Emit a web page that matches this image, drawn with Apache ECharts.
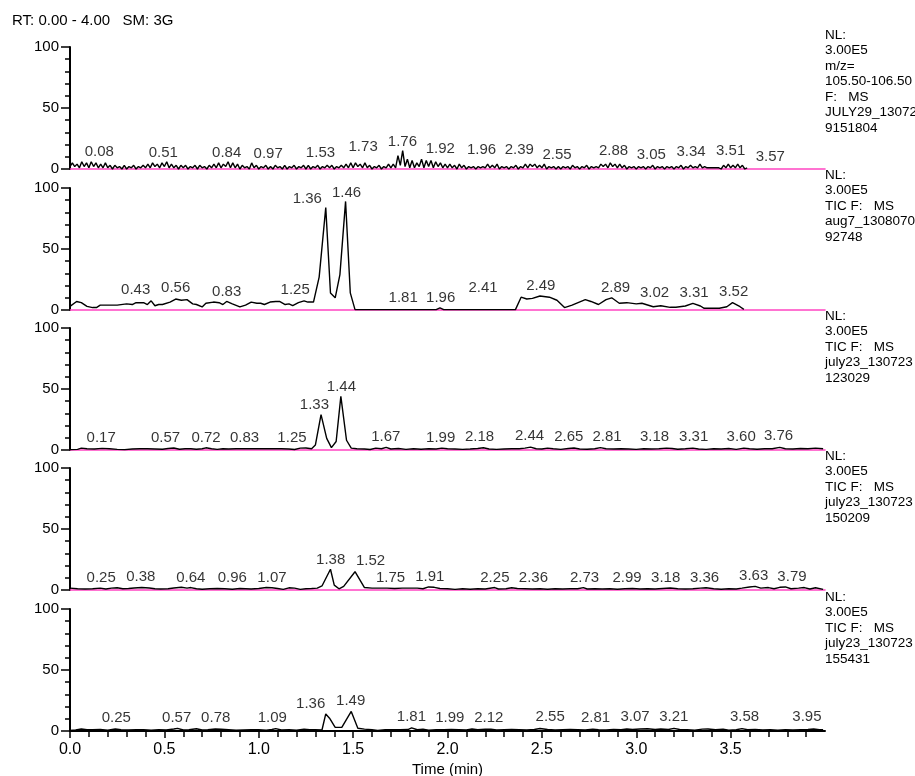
<!DOCTYPE html>
<html><head><meta charset="utf-8">
<script src="https://cdn.jsdelivr.net/npm/echarts@6/dist/echarts.min.js"></script>
<style>html,body{margin:0;padding:0;background:#fff}#chart{width:915px;height:776px}</style>
</head><body><div id="chart"></div>
<script>
// ---------- DATA ----------
const headerText = 'RT: 0.00 - 4.00   SM: 3G';
const xTickLabels = [0, 0.5, 1.0, 1.5, 2.0, 2.5, 3.0, 3.5];

// Panel 1: regular scans (m/z 105.5-106.5)
const p1Start = 0, p1Step = 0.0125;
const p1Values = [
  2,5,2,4,1,6,2,5, 1,6,2,5,1,4,1,5, 1,3,0,3,1,2,0,3, 0,2,1,3,0,2,1,3,
  1,4,1,5,2,4,1,5, 2,6,1,4,1,3,0,3, 1,3,0,2,1,3,0,3, 1,2,0,3,1,4,1,5,
  1,4,2,6,1,5,1,4, 0,3,1,2,0,5,1,3, 0,2,1,3,0,2,0,3, 1,2,0,3,0,2,1,3,
  0,2,1,3,0,3,0,2, 1,3,0,2,1,3,1,3, 0,2,1,3,1,4,1,5, 1,5,2,4,1,5,1,3,
  0,2,1,3,0,2,1,4, 1,4,1,11,3,15,2,8, 1,7,1,5,2,8,1,7, 2,7,1,6,2,5,1,4,
  1,4,1,3,0,4,1,3, 0,2,1,2,0,2,1,2, 1,4,1,3,1,4,0,2, 1,2,0,2,1,3,0,2,
  1,4,1,4,2,4,1,3, 1,4,0,2,1,2,0,2, 0,2,1,2,0,3,1,2, 0,2,1,3,0,2,1,2,
  1,4,2,4,1,5,2,4, 1,4,1,3,0,2,1,2, 0,2,1,2,0,2,1,3, 0,2,1,2,0,2,1,2,
  0,2,1,3,0,2,1,3, 1,2,1,4,1,2,1,1, 1,1,1,1,0,3,1,4, 1,3,1,4,1,3,0,1
];
const p1LabelText = ['0.08','0.51','0.84','0.97','1.53','1.73','1.76','1.92','1.96','2.39','2.55','2.88','3.05','3.34','3.51','3.57'];
const p1LabelX = [0.155,0.494,0.83,1.05,1.327,1.553,1.761,1.962,2.18,2.38,2.58,2.88,3.08,3.29,3.50,3.71];
const p1LabelY = [14.2,13.4,13.4,12.3,13.4,18.3,22.4,16.4,15.6,15.6,11.5,15,11.5,14.2,15,10];
const p1Info = ['NL:', '3.00E5', 'm/z=', '105.50-106.50', 'F:   MS', 'JULY29_13072', '9151804'];

// Panel 2
const p2Trace = [[0,3],[0.035,7],[0.06,6],[0.09,3],[0.12,2],[0.14,2],[0.16,4],[0.25,4],[0.30,5],[0.33,4.5],[0.35,6],[0.39,6],[0.41,4.5],[0.43,7.5],[0.45,3.5],[0.47,4.5],[0.49,4.5],[0.53,6.5],[0.56,9],[0.59,8],[0.62,8.5],[0.65,5],[0.67,4.5],[0.70,2.5],[0.72,5.5],[0.76,6.5],[0.79,6],[0.81,4.5],[0.83,7],[0.86,5],[0.90,2.5],[0.93,4],[0.96,6.5],[0.99,5.5],[1.01,5.5],[1.03,4.5],[1.06,6.5],[1.09,7],[1.11,7],[1.14,4.5],[1.16,5],[1.18,3.5],[1.21,6],[1.24,7.5],[1.26,6.5],[1.29,6.5],[1.32,27],[1.355,84],[1.38,14],[1.405,10],[1.43,29],[1.46,89],[1.485,14],[1.51,0.3],[1.94,0.3],[1.96,1.8],[1.98,0.3],[2.36,0.3],[2.39,10.5],[2.42,9],[2.45,9.5],[2.49,11.5],[2.54,10.5],[2.58,8],[2.62,2],[2.66,4],[2.73,8.5],[2.76,7],[2.80,4.5],[2.84,8.5],[2.87,10],[2.91,5.5],[2.95,6],[3.00,5],[3.03,5.5],[3.09,2.7],[3.13,3.5],[3.18,2.2],[3.21,2.2],[3.26,3.3],[3.30,5.5],[3.34,3.3],[3.36,1.4],[3.44,1.4],[3.48,2.7],[3.51,6],[3.55,2.7],[3.57,0.5]];
const p2LabelText = ['0.43','0.56','0.83','1.25','1.36','1.46','1.81','1.96','2.41','2.49','2.89','3.02','3.31','3.52'];
const p2LabelX = [0.348,0.56,0.83,1.193,1.257,1.465,1.765,1.964,2.188,2.494,2.89,3.097,3.306,3.516];
const p2LabelY = [16.4,17.8,15,16.4,91.5,96,9.6,9.6,17.8,19.7,18.3,13.7,13.7,14.5];
const p2Info = ['NL:', '3.00E5', 'TIC F:   MS', 'aug7_1308070', '92748'];

// Panel 3
const p3Trace = [[0,0.3],[0.04,0.5],[0.06,1.5],[0.09,1],[0.13,0.8],[0.17,1.3],[0.21,1],[0.25,0.5],[0.29,0.3],[0.33,0.8],[0.37,1],[0.41,1],[0.45,0.8],[0.49,0.6],[0.52,1.2],[0.55,1.6],[0.58,0.6],[0.61,1],[0.64,1],[0.67,0.6],[0.70,1],[0.72,1.8],[0.75,1],[0.78,0.5],[0.81,1],[0.84,0.8],[0.88,1],[0.92,1],[0.96,1],[1.00,1],[1.04,1],[1.08,1],[1.12,1],[1.16,0.8],[1.19,0.4],[1.22,1.5],[1.25,1.6],[1.28,1],[1.30,4],[1.33,29],[1.36,9.5],[1.385,2],[1.41,7],[1.435,44],[1.465,8],[1.49,1.5],[1.52,1],[1.56,0.8],[1.59,0.4],[1.62,1.5],[1.65,1],[1.675,2.2],[1.70,0.8],[1.74,1.2],[1.78,0.5],[1.82,1],[1.86,0.6],[1.90,1],[1.94,0.8],[1.97,1.5],[2.00,1],[2.04,0.8],[2.08,0.5],[2.12,0.8],[2.16,1.2],[2.19,1.8],[2.22,0.8],[2.26,0.5],[2.30,0.8],[2.34,1],[2.38,1],[2.41,1.5],[2.44,2.4],[2.47,1],[2.50,0.8],[2.53,1.5],[2.56,1],[2.60,0.5],[2.64,1.2],[2.67,1.6],[2.70,0.8],[2.74,0.6],[2.78,1],[2.81,2],[2.84,1],[2.88,0.8],[2.92,1],[2.96,0.8],[3.00,0.5],[3.04,1],[3.08,0.8],[3.12,1],[3.16,1.5],[3.19,1.2],[3.22,0.6],[3.26,1],[3.30,1.5],[3.33,0.8],[3.37,0.5],[3.41,1],[3.45,0.8],[3.49,1.2],[3.53,0.5],[3.57,1.5],[3.60,1],[3.64,0.6],[3.68,1],[3.72,1],[3.76,2.2],[3.79,1],[3.83,0.8],[3.87,1.2],[3.91,1],[3.95,1.5],[3.99,1]];
const p3LabelText = ['0.17','0.57','0.72','0.83','1.25','1.33','1.44','1.67','1.99','2.18','2.44','2.65','2.81','3.18','3.31','3.60','3.76'];
const p3LabelX = [0.165,0.506,0.721,0.925,1.176,1.295,1.438,1.673,1.964,2.17,2.435,2.643,2.845,3.097,3.304,3.556,3.754];
const p3LabelY = [10.1,10.1,10.1,9.6,10.1,36.9,51.9,10.9,10.1,10.9,11.7,10.9,10.9,10.9,10.9,10.9,11.7];
const p3Info = ['NL:', '3.00E5', 'TIC F:   MS', 'july23_130723', '123029'];

// Panel 4
const p4Trace = [[0,1.5],[0.04,1],[0.08,0.8],[0.12,1],[0.16,1.5],[0.19,0.8],[0.22,1.5],[0.25,1.8],[0.28,1],[0.31,1.2],[0.34,1.6],[0.38,2],[0.42,1.6],[0.45,1],[0.48,0.8],[0.52,1],[0.55,1.6],[0.59,2.2],[0.62,1.5],[0.64,2],[0.67,1],[0.70,0.6],[0.74,1],[0.78,1.2],[0.82,1],[0.86,0.6],[0.90,1.2],[0.93,1],[0.96,0.8],[1.00,1.2],[1.04,2],[1.07,1.8],[1.10,1.2],[1.13,0.5],[1.16,1.8],[1.19,1.5],[1.22,0.5],[1.25,1],[1.28,1.2],[1.31,1.5],[1.335,3.3],[1.38,17],[1.40,4],[1.425,1],[1.45,3],[1.51,15],[1.56,2],[1.60,1.5],[1.64,1.5],[1.68,1.5],[1.72,1.2],[1.76,1.5],[1.80,1.5],[1.84,1.5],[1.87,1],[1.90,2.5],[1.93,2.2],[1.96,1.2],[2.00,1],[2.04,0.5],[2.08,1],[2.12,0.6],[2.16,1],[2.20,0.8],[2.25,2],[2.27,0.8],[2.31,1],[2.34,1.8],[2.37,1.2],[2.41,1],[2.45,0.8],[2.49,1],[2.53,0.6],[2.57,1],[2.61,0.8],[2.65,1],[2.69,1],[2.72,2],[2.74,0.8],[2.78,1],[2.82,0.8],[2.86,1],[2.90,0.6],[2.94,1],[2.98,1.2],[3.02,0.8],[3.06,1],[3.10,0.8],[3.14,1.2],[3.18,1.6],[3.22,1],[3.26,0.8],[3.30,1],[3.34,1.5],[3.37,1.8],[3.41,1],[3.45,0.6],[3.49,1],[3.53,0.8],[3.56,1.5],[3.60,2.5],[3.63,3],[3.66,1.5],[3.70,2],[3.73,1],[3.76,2.2],[3.79,2.5],[3.82,1],[3.86,1.5],[3.89,2],[3.92,0.8],[3.95,1.8],[3.99,0.5]];
const p4LabelText = ['0.25','0.38','0.64','0.96','1.07','1.38','1.52','1.75','1.91','2.25','2.36','2.73','2.99','3.18','3.36','3.63','3.79'];
const p4LabelX = [0.165,0.375,0.64,0.86,1.07,1.381,1.592,1.698,1.906,2.251,2.455,2.726,2.951,3.156,3.362,3.622,3.825];
const p4LabelY = [9.6,10.4,10.1,9.6,10.1,25.1,24,10.1,10.4,10.1,10.1,10.1,9.6,10.1,10.1,11.5,10.9];
const p4Info = ['NL:', '3.00E5', 'TIC F:   MS', 'july23_130723', '150209'];

// Panel 5
const p5Trace = [[0,0.5],[0.03,0.8],[0.06,1.6],[0.09,1],[0.12,1],[0.16,1.2],[0.20,0.6],[0.24,1.6],[0.27,1],[0.31,0.8],[0.35,1],[0.39,1],[0.43,0.6],[0.47,1],[0.51,0.8],[0.55,1.6],[0.57,2.2],[0.60,0.8],[0.63,1],[0.67,1.8],[0.70,0.8],[0.73,1],[0.77,1.6],[0.80,1.4],[0.84,1],[0.88,0.6],[0.92,0.8],[0.96,1],[1.00,1],[1.04,0.6],[1.07,1.2],[1.09,2],[1.12,0.8],[1.16,1],[1.20,0.6],[1.24,1.5],[1.27,1],[1.30,1],[1.335,0.8],[1.355,14],[1.375,10.5],[1.405,3],[1.44,3],[1.49,16],[1.525,2.2],[1.56,1.5],[1.60,1],[1.63,0.5],[1.67,1],[1.71,1],[1.75,1],[1.79,1.2],[1.81,2.5],[1.84,1],[1.87,1.5],[1.90,0.6],[1.94,1],[1.98,1],[2.02,1.2],[2.06,1],[2.10,0.8],[2.13,1.6],[2.16,1],[2.20,1.5],[2.23,1.4],[2.26,0.8],[2.30,1],[2.34,1.2],[2.38,1],[2.42,0.8],[2.46,1.2],[2.49,2],[2.53,1.2],[2.57,0.8],[2.61,1],[2.65,1.2],[2.69,1],[2.73,0.8],[2.77,1.5],[2.80,1],[2.84,0.8],[2.88,1.2],[2.92,1],[2.95,1.6],[2.98,1.2],[3.02,1.6],[3.06,1.8],[3.10,1.2],[3.13,1.6],[3.17,1.2],[3.20,2.2],[3.23,1.2],[3.27,1],[3.31,0.6],[3.35,1.5],[3.38,1.6],[3.42,1],[3.46,1.5],[3.49,0.6],[3.53,1],[3.56,2],[3.59,1],[3.63,1.2],[3.67,0.8],[3.71,1],[3.75,0.6],[3.79,1],[3.83,0.8],[3.87,1],[3.91,1.2],[3.94,1.6],[3.97,1],[3.99,1]];
const p5LabelText = ['0.25','0.57','0.78','1.09','1.36','1.49','1.81','1.99','2.12','2.55','2.81','3.07','3.21','3.58','3.95'];
const p5LabelX = [0.245,0.565,0.772,1.072,1.275,1.487,1.809,2.012,2.219,2.544,2.784,2.994,3.199,3.574,3.904];
const p5LabelY = [10.4,10.4,10.4,10.4,22.1,24.6,11.2,10.4,10.4,11.2,10.4,11.2,11.7,11.2,11.2];
const p5Info = ['NL:', '3.00E5', 'TIC F:   MS', 'july23_130723', '155431'];

// ---------- BUILD ----------
const FONT = '"Liberation Sans", Arial, Helvetica, sans-serif';
const PINK = '#ff45c2';
const p1Trace = p1Values.map((v, i) => [+(p1Start + i * p1Step).toFixed(4), v]);
const traces = [p1Trace, p2Trace, p3Trace, p4Trace, p5Trace];
const labelSets = [
  [p1LabelText, p1LabelX, p1LabelY],
  [p2LabelText, p2LabelX, p2LabelY],
  [p3LabelText, p3LabelX, p3LabelY],
  [p4LabelText, p4LabelX, p4LabelY],
  [p5LabelText, p5LabelX, p5LabelY]
];
const infos = [p1Info, p2Info, p3Info, p4Info, p5Info];

const gridTops = [47, 188, 328, 468, 609];
const gridH = 122;
const infoStart = [35, 175, 316, 456, 597];

const grid = gridTops.map(t => ({ left: 70, right: 90, top: t, height: gridH, containLabel: false, outerBoundsMode: 'none' }));
const xAxis = gridTops.map((t, i) => {
  const last = i === 4;
  return {
    type: 'value', gridIndex: i, min: 0, max: 4, interval: 0.5,
    axisLine: { show: true, onZero: false, lineStyle: { color: last ? '#000' : PINK, width: last ? 2 : 1.6 } },
    axisTick: { show: last, length: 7, inside: false, customValues: xTickLabels, lineStyle: { color: '#000', width: 1.5 } },
    minorTick: { show: last, splitNumber: 5, length: 6, lineStyle: { color: '#000', width: 1.5 } },
    axisLabel: { show: last, customValues: xTickLabels, formatter: v => Number(v).toFixed(1), fontSize: 16, color: '#000', margin: 11, fontFamily: FONT },
    splitLine: { show: false }, minorSplitLine: { show: false },
    name: last ? 'Time (min)' : '', nameLocation: 'middle', nameGap: 31,
    nameTextStyle: { fontSize: 15, color: '#000', fontFamily: FONT }
  };
});
const yAxis = gridTops.map((t, i) => ({
  type: 'value', gridIndex: i, min: 0, max: 100, interval: 50,
  axisLine: { show: true, onZero: false, lineStyle: { color: '#000', width: 2 } },
  axisTick: { show: true, length: 9, lineStyle: { color: '#000', width: 1.5 } },
  minorTick: { show: true, splitNumber: 5, length: 5, lineStyle: { color: '#000', width: 1.5 } },
  axisLabel: { fontSize: 15, color: '#000', margin: 11, fontFamily: FONT },
  splitLine: { show: false }
}));

const series = [];
traces.forEach((tr, i) => {
  series.push({
    type: 'line', xAxisIndex: i, yAxisIndex: i, data: tr, symbol: 'none', showSymbol: false,
    lineStyle: { color: '#000', width: 1.4 }, silent: true, z: 3, clip: false
  });
  const [txt, xs, ys] = labelSets[i];
  series.push({
    type: 'scatter', xAxisIndex: i, yAxisIndex: i, symbolSize: 1,
    itemStyle: { color: 'rgba(0,0,0,0)' }, silent: true, z: 4,
    data: txt.map((t, k) => ({ name: t, value: [xs[k], ys[k]] })),
    label: { show: true, position: 'inside', formatter: '{b}', fontSize: 15, color: '#000', fontFamily: FONT }
  });
});

const graphic = [{
  type: 'text', x: 12, y: 21,
  style: { text: headerText, font: '15px ' + FONT, fill: '#000', verticalAlign: 'middle' }
}];
infos.forEach((lines, i) => {
  lines.forEach((ln, k) => {
    graphic.push({
      type: 'text', x: 825, y: infoStart[i] + k * 15.5,
      style: { text: ln, font: '13.5px ' + FONT, fill: '#000', verticalAlign: 'middle' }
    });
  });
});

const chart = echarts.init(document.getElementById('chart'), null, { renderer: 'canvas' });
chart.setOption({
  animation: false,
  backgroundColor: '#fff',
  grid, xAxis, yAxis, series, graphic
});
</script>
</body></html>
